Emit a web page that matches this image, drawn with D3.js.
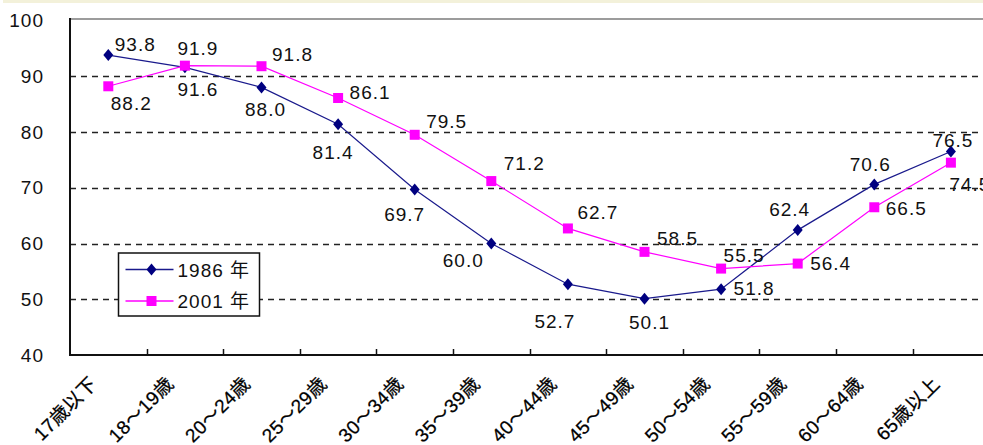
<!DOCTYPE html>
<html>
<head>
<meta charset="utf-8">
<script src="https://cdn.jsdelivr.net/npm/d3@7"></script>
<style>
  body { margin: 0; background: #fff; }
  svg { display: block; }
</style>
</head>
<body>
<svg id="chart" width="983" height="445"></svg>
<script>
// Age groups along the horizontal axis
const categories = ["17歳以下", "18～19歳", "20～24歳", "25～29歳", "30～34歳", "35～39歳",
                    "40～44歳", "45～49歳", "50～54歳", "55～59歳", "60～64歳", "65歳以上"];
// Series values
const values1986 = [93.8, 91.6, 88.0, 81.4, 69.7, 60.0, 52.7, 50.1, 51.8, 62.4, 70.6, 76.5];
const values2001 = [88.2, 91.9, 91.8, 86.1, 79.5, 71.2, 62.7, 58.5, 55.5, 56.4, 66.5, 74.5];
const yTicks = [40, 50, 60, 70, 80, 90, 100];
const seriesNames = ["1986 年", "2001 年"];

// Where each value label sits relative to its marker: [dx to text centre, dy to baseline]
const labelShift1986 = [[27, -4], [13, 29], [4, 29], [-5, 35], [-10, 32], [-28, 23],
                        [-13, 44], [5, 30], [33, 6], [-8, -14], [-4, -13], [2, -5]];
const labelShift2001 = [[23, 24], [13, -11], [31, -5], [32, 1], [32, -7], [33, -11],
                        [30, -9], [33, -7], [23, -7], [33, 6], [32, 8], [19, 28]];

const W = 983, H = 445;
const plotLeft = 70, plotBottom = 355, plotTop = 20.5, step = 76.6;
const font = '"Liberation Sans", "Noto Sans CJK JP", Arial, sans-serif';
const navy = "#000080", navyLine = "#1a1a8c", pink = "#ff00ff";

const svg = d3.select("#chart");

const x = d3.scaleBand()
  .domain(categories)
  .range([plotLeft, plotLeft + step * categories.length])
  .padding(0);
const y = d3.scaleLinear().domain([40, 100]).range([plotBottom, plotTop]);
const cx = c => x(c) + x.bandwidth() / 2;
const plotRight = x.range()[1];

// thin tinted strip along the top edge
svg.append("rect").attr("x", 3).attr("y", 0).attr("width", W).attr("height", 3)
  .attr("fill", "#f3f1da");

// dashed horizontal gridlines
svg.append("g").selectAll("line")
  .data(yTicks.filter(t => t > 40 && t < 100))
  .join("line")
  .attr("x1", plotLeft).attr("x2", plotRight)
  .attr("y1", d => Math.round(y(d)) + 0.5).attr("y2", d => Math.round(y(d)) + 0.5)
  .attr("stroke", "#222").attr("stroke-width", 1.4)
  .attr("stroke-dasharray", "6,5");

// plot frame top edge
svg.append("line")
  .attr("x1", plotLeft).attr("x2", plotRight)
  .attr("y1", y(100) - 1.5).attr("y2", y(100) - 1.5)
  .attr("stroke", "#9c9c9c").attr("stroke-width", 2);

// y axis
const yAxis = svg.append("g")
  .attr("transform", `translate(${plotLeft},0)`)
  .call(d3.axisLeft(y).tickValues(yTicks).tickSize(0).tickPadding(26));
yAxis.select(".domain").remove();
yAxis.selectAll("text")
  .attr("font-family", font).attr("font-size", 19).attr("fill", "#111")
  .attr("letter-spacing", "1px");
svg.append("line")
  .attr("x1", plotLeft).attr("x2", plotLeft)
  .attr("y1", y(100) - 2.5).attr("y2", plotBottom + 1)
  .attr("stroke", "#111").attr("stroke-width", 2);

// x axis with rotated category labels
const xAxis = svg.append("g")
  .attr("transform", `translate(0,${plotBottom})`)
  .call(d3.axisBottom(x).tickSize(0));
xAxis.select(".domain").remove();
xAxis.selectAll("text")
  .attr("font-family", font).attr("font-size", 19).attr("fill", "#000")
  .attr("letter-spacing", "0.4px")
  .attr("stroke", "#000").attr("stroke-width", 0.25)
  .attr("text-anchor", "end")
  .attr("y", 0).attr("dy", 0)
  .attr("transform", "translate(-10,30) rotate(-45)");
svg.append("line")
  .attr("x1", plotLeft - 1).attr("x2", plotRight)
  .attr("y1", plotBottom).attr("y2", plotBottom)
  .attr("stroke", "#111").attr("stroke-width", 2);
// category boundary ticks, pointing into the plot
svg.append("g").selectAll("line")
  .data(categories.slice(1))
  .join("line")
  .attr("x1", d => Math.round(x(d)) + 0.5).attr("x2", d => Math.round(x(d)) + 0.5)
  .attr("y1", plotBottom).attr("y2", plotBottom - 6)
  .attr("stroke", "#111").attr("stroke-width", 1.5);

// series lines
const line = d3.line()
  .x((d, i) => cx(categories[i]))
  .y(d => y(d));

svg.append("path").datum(values1986)
  .attr("d", line).attr("fill", "none")
  .attr("stroke", navyLine).attr("stroke-width", 1.2);

svg.append("path").datum(values2001)
  .attr("d", line).attr("fill", "none")
  .attr("stroke", pink).attr("stroke-width", 1.2);

// marker shapes
const diamond = "M0,-6L5,0L0,6L-5,0Z";
const square = "M-5,-5H5V5H-5Z";

svg.append("g").selectAll("path")
  .data(values1986)
  .join("path")
  .attr("d", diamond)
  .attr("transform", (d, i) => `translate(${cx(categories[i])},${y(d)})`)
  .attr("fill", navy);

svg.append("g").selectAll("path")
  .data(values2001)
  .join("path")
  .attr("d", square)
  .attr("transform", (d, i) => `translate(${cx(categories[i])},${y(d)})`)
  .attr("fill", pink);

// value labels
function drawLabels(values, shifts) {
  svg.append("g").selectAll("text")
    .data(values)
    .join("text")
    .attr("x", (d, i) => cx(categories[i]) + shifts[i][0])
    .attr("y", (d, i) => y(d) + shifts[i][1])
    .attr("text-anchor", "middle")
    .attr("font-family", font).attr("font-size", 19).attr("fill", "#111")
    .attr("letter-spacing", "1px")
    .text(d => d.toFixed(1));
}
drawLabels(values1986, labelShift1986);
drawLabels(values2001, labelShift2001);

// legend
const legend = svg.append("g").attr("transform", "translate(118.5,253)");
legend.append("rect")
  .attr("width", 141).attr("height", 63)
  .attr("fill", "#fff").attr("stroke", "#111").attr("stroke-width", 1.5);

const legendItems = [
  { name: seriesNames[0], color: navyLine, mark: navy, shape: diamond },
  { name: seriesNames[1], color: pink, mark: pink, shape: square }
];
const rows = legend.selectAll("g.item")
  .data(legendItems)
  .join("g")
  .attr("class", "item")
  .attr("transform", (d, i) => `translate(0,${16.5 + i * 31.5})`);
rows.append("line")
  .attr("x1", 7).attr("x2", 55)
  .attr("stroke", d => d.color).attr("stroke-width", 1.5);
rows.append("path")
  .attr("d", d => d.shape)
  .attr("transform", "translate(33,0)")
  .attr("fill", d => d.mark);
rows.append("text")
  .attr("x", 59).attr("y", 7)
  .attr("font-family", font).attr("font-size", 19).attr("fill", "#111")
  .attr("letter-spacing", "1px")
  .text(d => d.name);
</script>
</body>
</html>
